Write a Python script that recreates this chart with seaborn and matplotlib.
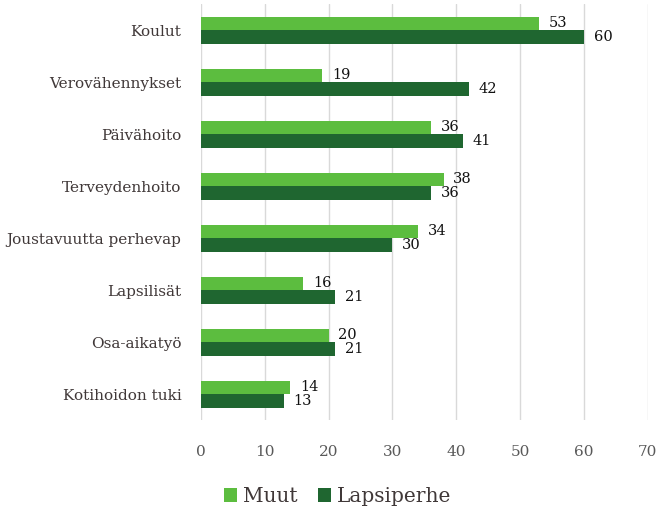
import matplotlib
matplotlib.use("Agg")
import matplotlib.pyplot as plt
import seaborn as sns
import pandas as pd

categories = ["Koulut", "Verovähennykset", "Päivähoito", "Terveydenhoito",
              "Joustavuutta perhevap", "Lapsilisät", "Osa-aikatyö", "Kotihoidon tuki"]
muut = [53, 19, 36, 38, 34, 16, 20, 14]
lapsiperhe = [60, 42, 41, 36, 30, 21, 21, 13]
series = ["Muut", "Lapsiperhe"]
colors = ["#5cbd3f", "#1f6630"]

df = pd.DataFrame({
    "cat": categories * 2,
    "val": muut + lapsiperhe,
    "series": [series[0]] * len(categories) + [series[1]] * len(categories),
})

sns.set_style("white")
plt.rcParams["font.family"] = ["DejaVu Serif"]

fig = plt.figure(figsize=(6.72, 5.24), dpi=100)
ax = fig.add_axes([0.299, 0.198, 0.665, 0.794])

sns.barplot(data=df, y="cat", x="val", hue="series", palette=colors,
            orient="h", width=0.52, ax=ax, legend=True, saturation=1,
            linewidth=0, edgecolor="none")

for cont in ax.containers:
    ax.bar_label(cont, padding=7, fontsize=10.5, color="#111111")

ax.set_xlim(0, 70)
ax.set_xticks(range(0, 71, 10))
ax.set_ylim(7.5, -0.5)
ax.xaxis.grid(True, color="#d9d9d9", linewidth=1)
ax.set_axisbelow(True)
for s in ax.spines.values():
    s.set_visible(False)
ax.set_xlabel("")
ax.set_ylabel("")
ax.tick_params(axis="x", colors="#595959", labelsize=11, length=0, pad=18)
ax.tick_params(axis="y", colors="#404040", labelsize=11, length=0, pad=14)
for lbl in ax.get_yticklabels():
    lbl.set_color("#403838")

ax.legend_.remove()
handles, labels = ax.get_legend_handles_labels()
fig.legend(handles[:2], labels[:2], loc="center", bbox_to_anchor=(0.502, 0.052),
           ncol=2, frameon=False, fontsize=14.5, handlelength=0.65, handleheight=0.65,
           handletextpad=0.3, columnspacing=1.0, labelcolor="#403838")

fig.savefig("out.png", dpi=100)
